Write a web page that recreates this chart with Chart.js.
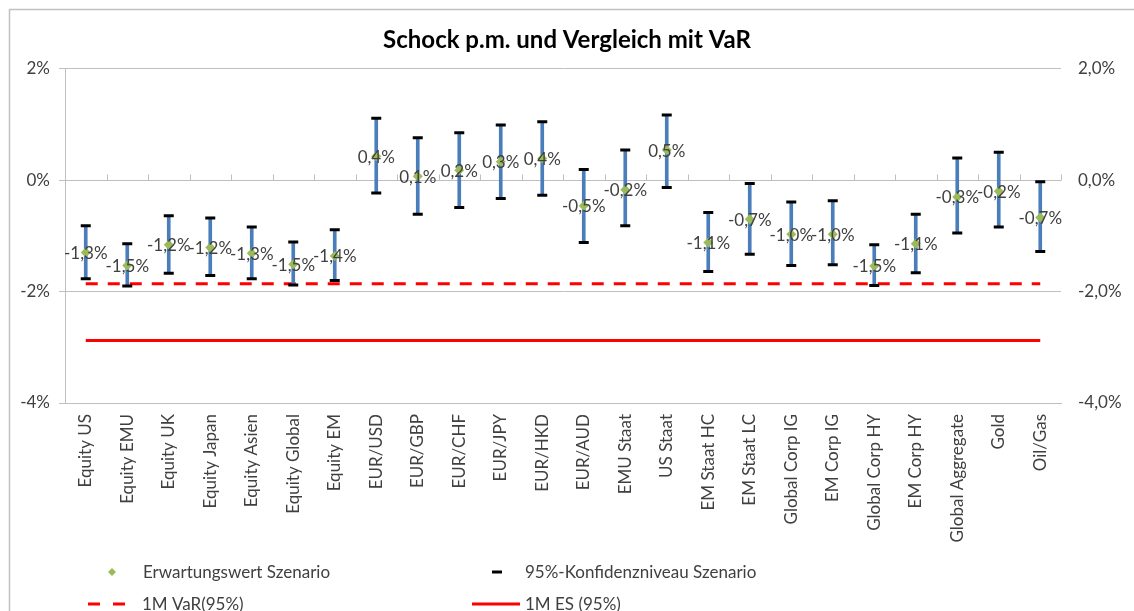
<!DOCTYPE html>
<html>
<head>
<meta charset="utf-8">
<script src="https://cdn.jsdelivr.net/npm/chart.js@4/dist/chart.umd.min.js"></script>
<style>
  body { margin: 0; background: #fff; }
  #wrap { width: 1134px; height: 611px; }
</style>
</head>
<body>
<div id="wrap"><canvas id="chart" width="1134" height="611"></canvas></div>
<script>
const categories = ['Equity US', 'Equity EMU', 'Equity UK', 'Equity Japan', 'Equity Asien', 'Equity Global',
    'Equity EM', 'EUR/USD', 'EUR/GBP', 'EUR/CHF', 'EUR/JPY', 'EUR/HKD', 'EUR/AUD', 'EMU Staat', 'US Staat',
    'EM Staat HC', 'EM Staat LC', 'Global Corp IG', 'EM Corp IG', 'Global Corp HY', 'EM Corp HY',
    'Global Aggregate', 'Gold', 'Oil/Gas'];

// Erwartungswert (mean shock), in %
const expected = [-1.30, -1.53, -1.16, -1.21, -1.31, -1.51, -1.36, 0.43, 0.07, 0.18, 0.33, 0.39,
    -0.46, -0.17, 0.54, -1.12, -0.70, -0.97, -0.97, -1.54, -1.14, -0.30, -0.20, -0.67];
// 95% confidence band, upper and lower end
const upper95 = [-0.82, -1.14, -0.64, -0.68, -0.84, -1.11, -0.89, 1.11, 0.76, 0.85, 0.99, 1.05,
    0.19, 0.54, 1.17, -0.58, -0.06, -0.39, -0.37, -1.16, -0.61, 0.40, 0.50, -0.03];
const lower95 = [-1.77, -1.90, -1.67, -1.71, -1.77, -1.88, -1.80, -0.23, -0.61, -0.49, -0.33, -0.27,
    -1.12, -0.82, -0.13, -1.64, -1.33, -1.53, -1.52, -1.89, -1.66, -0.95, -0.84, -1.28];
const var95 = categories.map(() => -1.86);
const es95 = categories.map(() => -2.88);

const yTicks = [-4, -2, 0, 2];

const FONT = 'Lato';
const TEXT = '#404040';

const fmtPct = v => v.toFixed(1).replace('.', ',') + '%';

// blue vertical line between the two ends of the band
const bandRange = lower95.map((lo, i) => [lo, upper95[i]]);

const frame = {
    id: 'frame',
    beforeDraw(chart) {
        const c = chart.ctx;
        c.save();
        c.strokeStyle = '#c0c0c0';
        c.lineWidth = 1.5;
        c.strokeRect(9.5, 9.5, 1140, 620);
        c.restore();
    }
};

// small tick marks on the zero line at category borders
const zeroTicks = {
    id: 'zeroTicks',
    beforeDatasetsDraw(chart) {
        const x = chart.scales.x, y = chart.scales.y;
        const y0 = Math.round(y.getPixelForValue(0)) + 0.5;
        const c = chart.ctx;
        c.save();
        c.strokeStyle = '#bfbfbf';
        c.lineWidth = 1;
        c.beginPath();
        for (let i = 1; i <= categories.length; i++) {
            const px = Math.round(x.getPixelForValue(i - 0.5)) + 0.5;
            c.moveTo(px, y0);
            c.lineTo(px, y0 - 6);
        }
        c.stroke();
        c.restore();
    }
};

// value labels centred on the expected-value markers
const valueLabels = {
    id: 'valueLabels',
    afterDatasetsDraw(chart) {
        const meta = chart.getDatasetMeta(0);
        const c = chart.ctx;
        c.save();
        c.font = '17px ' + FONT;
        c.fillStyle = TEXT;
        c.textAlign = 'center';
        c.textBaseline = 'middle';
        meta.data.forEach((pt, i) => {
            c.fillText(fmtPct(expected[i]), pt.x, pt.y + 1);
        });
        c.restore();
    }
};

// legend laid out in two columns like the original
const legendBox = {
    id: 'legendBox',
    afterDraw(chart) {
        const ds = chart.data.datasets;
        const c = chart.ctx;
        c.save();
        c.font = '17px ' + FONT;
        c.fillStyle = TEXT;
        c.textBaseline = 'middle';

        // Erwartungswert Szenario
        c.fillStyle = ds[0].backgroundColor;
        c.beginPath();
        c.moveTo(112, 568); c.lineTo(116, 572); c.lineTo(112, 576); c.lineTo(108, 572);
        c.closePath(); c.fill();
        c.fillStyle = TEXT;
        c.fillText(ds[0].label, 143, 573);

        // 95%-Konfidenzniveau Szenario
        c.strokeStyle = ds[1].borderColor;
        c.lineWidth = 3;
        c.beginPath(); c.moveTo(492, 572); c.lineTo(502, 572); c.stroke();
        c.fillText(ds[1].label, 525, 573);

        // 1M VaR(95%)
        c.strokeStyle = ds[4].borderColor;
        c.setLineDash([12, 13]);
        c.beginPath(); c.moveTo(88, 604); c.lineTo(126, 604); c.stroke();
        c.setLineDash([]);
        c.fillText(ds[4].label, 142, 605);

        // 1M ES (95%)
        c.strokeStyle = ds[5].borderColor;
        c.beginPath(); c.moveTo(472, 604); c.lineTo(520, 604); c.stroke();
        c.fillText(ds[5].label, 525, 605);
        c.restore();
    }
};

new Chart(document.getElementById('chart'), {
    data: {
        labels: categories,
        datasets: [{
                type: 'line',
                label: 'Erwartungswert Szenario',
                data: expected,
                showLine: false,
                pointStyle: 'rectRot',
                pointRadius: 5,
                backgroundColor: '#9bbb59',
                borderColor: '#9bbb59',
                borderWidth: 0,
                order: 0
            },
            {
                type: 'line',
                label: '95%-Konfidenzniveau Szenario',
                data: upper95,
                showLine: false,
                pointStyle: 'line',
                pointRadius: 5,
                borderColor: '#000000',
                borderWidth: 3,
                order: 1
            },
            {
                type: 'line',
                label: '95% unten',
                data: lower95,
                showLine: false,
                pointStyle: 'line',
                pointRadius: 5,
                borderColor: '#000000',
                borderWidth: 3,
                order: 1
            },
            {
                type: 'bar',
                label: 'Spanne',
                data: bandRange,
                backgroundColor: '#4a7ebb',
                barThickness: 3,
                order: 2
            },
            {
                type: 'line',
                label: '1M VaR(95%)',
                data: var95,
                borderColor: '#ff0000',
                borderWidth: 3,
                borderDash: [12, 10],
                pointRadius: 0,
                order: 3
            },
            {
                type: 'line',
                label: '1M ES (95%)',
                data: es95,
                borderColor: '#ff0000',
                borderWidth: 3,
                pointRadius: 0,
                order: 3
            }
        ]
    },
    options: {
        responsive: false,
        animation: false,
        events: [],
        layout: { padding: 0 },
        plugins: {
            legend: { display: false },
            tooltip: { enabled: false },
            title: {
                display: true,
                text: 'Schock p.m. und Vergleich mit VaR',
                color: '#000',
                font: { family: FONT, size: 24, weight: 'bold' },
                padding: { top: 26, bottom: 14 }
            }
        },
        scales: {
            x: {
                offset: true,
                grid: { display: false, drawTicks: false, tickLength: 0 },
                border: { display: true, color: '#bfbfbf' },
                ticks: {
                    color: TEXT,
                    font: { family: FONT, size: 17 },
                    minRotation: 90,
                    maxRotation: 90,
                    autoSkip: false,
                    padding: 11
                },
                afterFit: s => { s.height = 208; }
            },
            y: {
                position: 'left',
                min: -4,
                max: 2,
                afterBuildTicks: s => { s.ticks = yTicks.map(v => ({ value: v })); },
                grid: { color: '#bfbfbf', tickLength: 6 },
                border: { display: true, color: '#bfbfbf' },
                ticks: {
                    color: TEXT,
                    font: { family: FONT, size: 17 },
                    padding: 9,
                    callback: v => v + '%'
                },
                afterFit: s => { s.width = 65; }
            },
            y2: {
                position: 'right',
                min: -4,
                max: 2,
                afterBuildTicks: s => { s.ticks = yTicks.map(v => ({ value: v })); },
                grid: { display: false, drawTicks: false },
                border: { display: false },
                ticks: {
                    color: TEXT,
                    font: { family: FONT, size: 17 },
                    padding: 17,
                    callback: v => fmtPct(v)
                },
                afterFit: s => { s.width = 73; }
            }
        }
    },
    plugins: [frame, zeroTicks, valueLabels, legendBox]
});
</script>
</body>
</html>
